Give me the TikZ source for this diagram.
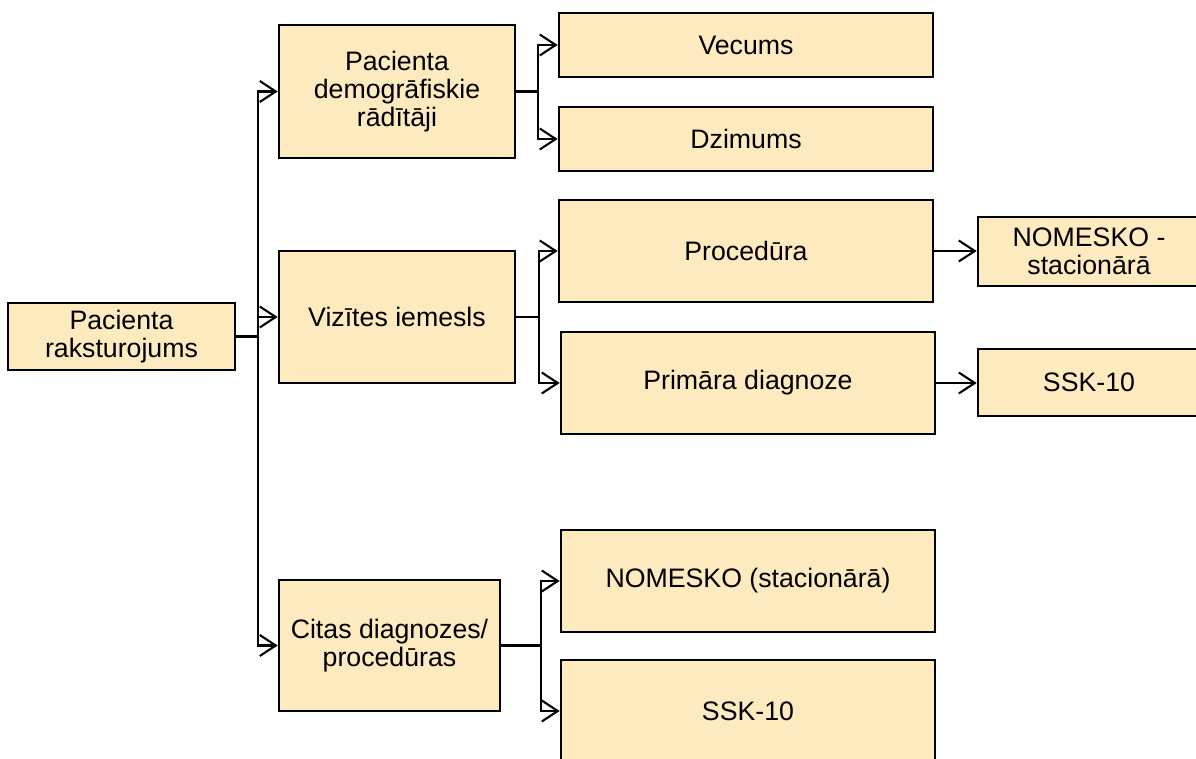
\documentclass[tikz,border=0pt]{standalone}
\usepackage{fontspec}
\setmainfont{Liberation Sans}
\usepackage{tikz}
\usetikzlibrary{calc}
\usetikzlibrary{arrows.meta}
\definecolor{boxfill}{RGB}{253,234,190}
\tikzset{
  box/.style={draw=black, fill=boxfill, line width=1.5pt, inner sep=0pt, align=center,
              font=\fontsize{15.2}{16}\selectfont},
  conn/.style={line width=1.2pt},
  arr/.style={conn, -{Straight Barb[length=0.32cm, width=0.42cm, line width=1.2pt]}}
}
% box with corners (x1,y1) (x2,y2) in pixel units
\newcommand{\boxnode}[6]{\node[box, minimum width={(#4-#2)*0.02cm}, minimum height={(#5-#3)*0.02cm}]
  (#1) at ({(#2+#4)/2},{(#3+#5)/2}) {#6};}

\begin{document}
\begin{tikzpicture}[x=0.02cm, y=-0.02cm]
    \useasboundingbox (0,0) rectangle (1196,759);
    % root
    \boxnode{root}{8}{303}{235}{370}{Pacienta\\raksturojums}
    % level 1
    \boxnode{demog}{279}{25}{515}{158}{Pacienta\\demogrāfiskie\\rādītāji}
    \boxnode{vizit}{279}{251}{515}{383}{Vizītes iemesls}
    \boxnode{citas}{279}{580}{500}{711}{Citas diagnozes/\\procedūras}
    % level 2
    \boxnode{vecums}{559}{13}{933}{77}{Vecums}
    \boxnode{dzimums}{559}{107}{933}{171}{Dzimums}
    \boxnode{proced}{559}{200}{933}{302}{Procedūra}
    \boxnode{primdiag}{561}{332}{935}{434}{Primāra diagnoze}
    \boxnode{nomesko}{561}{530}{935}{632}{NOMESKO (stacionārā)}
    \boxnode{ssk}{561}{660}{935}{762}{SSK-10}
    % level 3
    \boxnode{nomstac}{978}{217}{1200}{286}{NOMESKO -\\stacionārā}
    \boxnode{sskprim}{978}{349}{1200}{416}{SSK-10}
    % connectors
    \draw[arr] (root.east) -- ++(22,0) |- (demog.west);
    \draw[arr] (root.east) -- ++(22,0) |- (vizit.west);
    \draw[arr] (root.east) -- ++(22,0) |- (citas.west);
    \draw[arr] (demog.east) -- ++(22,0) |- (vecums.west);
    \draw[arr] (demog.east) -- ++(22,0) |- (dzimums.west);
    \draw[arr] (vizit.east) -- ++(23,0) |- (proced.west);
    \draw[arr] (vizit.east) -- ++(23,0) |- (primdiag.west);
    \draw[arr] (citas.east) -- ++(40,0) |- (nomesko.west);
    \draw[arr] (citas.east) -- ++(40,0) |- (ssk.west);
    \draw[arr] (proced.east) -- (proced.east -| nomstac.west);
    \draw[arr] (primdiag.east) -- (primdiag.east -| sskprim.west);
\end{tikzpicture}
\end{document}
